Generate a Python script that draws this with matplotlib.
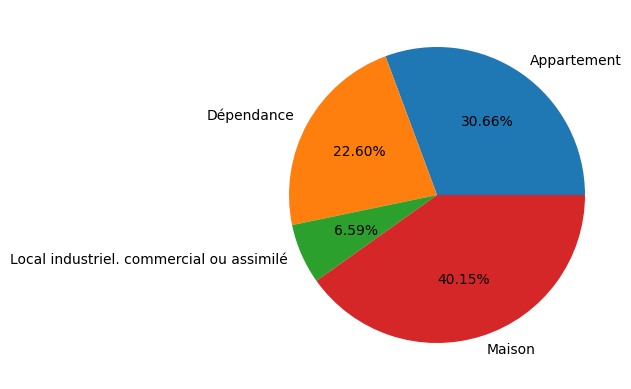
import matplotlib
matplotlib.use("Agg")
import matplotlib.pyplot as plt

labels = ["Appartement", "Dépendance", "Local industriel. commercial ou assimilé", "Maison"]
values = [30.66, 22.60, 6.59, 40.15]

fig = plt.figure(figsize=(6.31, 3.89), dpi=100)
ax = fig.add_axes([252/631, 9/389, 370/631, 370/389])
ax.pie(values, labels=labels, autopct="%1.2f%%")
fig.savefig("out.png", dpi=100)
